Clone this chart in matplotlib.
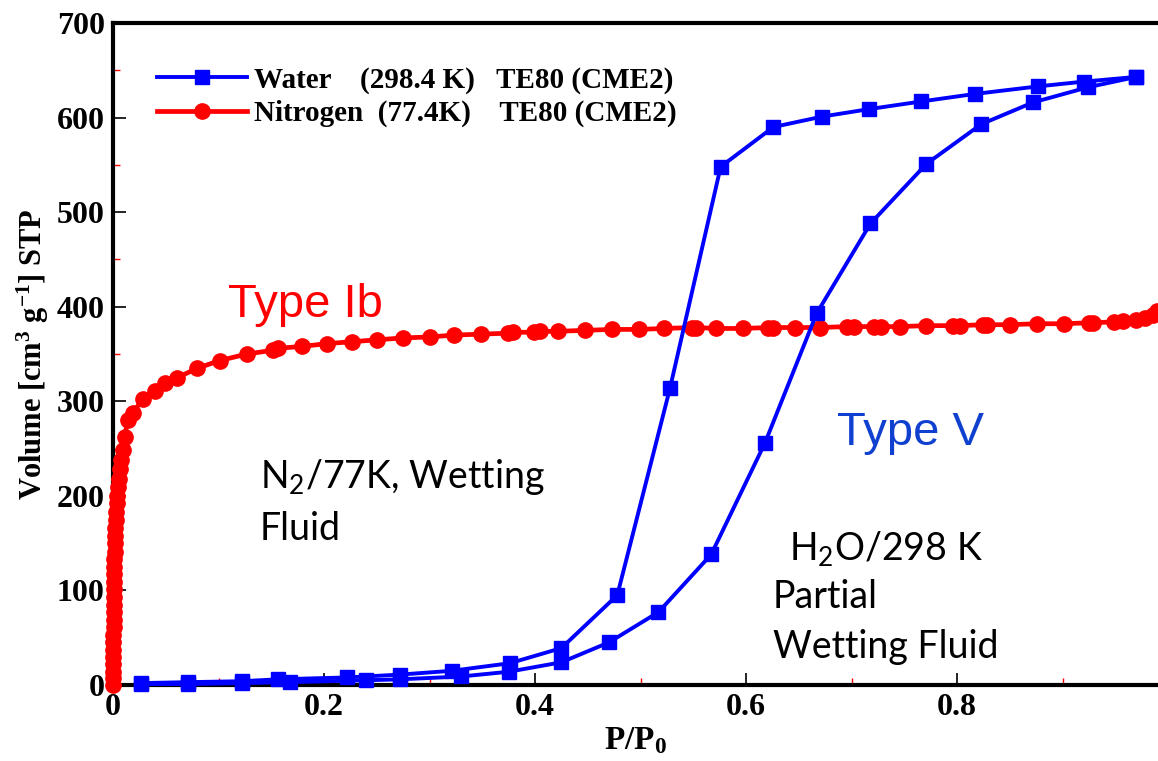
import matplotlib
matplotlib.use("Agg")
import matplotlib.pyplot as plt
from matplotlib.ticker import MultipleLocator

# ---------------- data ----------------
water_ads_x = [0.027, 0.071, 0.122, 0.168, 0.240, 0.272, 0.330, 0.375, 0.425, 0.470,
               0.517, 0.567, 0.618, 0.667, 0.718, 0.771, 0.823, 0.872, 0.924, 0.970]
water_ads_y = [1, 1, 2, 3, 5, 6, 9, 14, 24, 45,
               77, 138, 256, 393, 488, 551, 593, 616, 632, 643]

water_des_x = [0.970, 0.920, 0.877, 0.817, 0.766, 0.717, 0.672, 0.626, 0.576, 0.528,
               0.478, 0.425, 0.376, 0.321, 0.272, 0.222, 0.156, 0.122, 0.071, 0.027]
water_des_y = [643, 638, 633, 625, 617, 609, 601, 590, 548, 314,
               95, 39, 23, 15, 11, 8, 6, 4, 3, 2]

n2_x = [0.0000, 0.0001, 0.0001, 0.0002, 0.0002, 0.0003, 0.0003, 0.0004, 0.0005, 0.0005,
        0.0006, 0.0007, 0.0008, 0.0009, 0.0010, 0.0011, 0.0012, 0.0014, 0.0016, 0.0018,
        0.0020, 0.0023, 0.0026, 0.0030, 0.0035, 0.0040, 0.0047, 0.0055, 0.0066, 0.0080,
        0.0095, 0.0110, 0.014, 0.019, 0.028, 0.040, 0.049, 0.061, 0.080, 0.101,
        0.127, 0.152, 0.156, 0.179, 0.203, 0.227, 0.250, 0.275, 0.300, 0.323,
        0.349, 0.374, 0.379, 0.399, 0.405, 0.422, 0.447, 0.473, 0.499, 0.522,
        0.549, 0.553, 0.572, 0.597, 0.621, 0.626, 0.646, 0.670, 0.696, 0.702,
        0.721, 0.728, 0.746, 0.771, 0.796, 0.803, 0.825, 0.828, 0.850, 0.876,
        0.901, 0.925, 0.929, 0.949, 0.957, 0.970, 0.978, 0.986, 0.990]
n2_y = [0, 7, 14, 22, 30, 37, 45, 53, 61, 69,
        77, 85, 93, 101, 109, 117, 125, 133, 141, 150,
        158, 166, 175, 183, 192, 200, 209, 218, 228, 238,
        248, 262, 280, 288, 302, 311, 319, 325, 335, 343,
        350, 354, 356, 358, 361, 363, 365, 367, 368, 370,
        371, 372, 373, 373, 374, 374, 375, 376, 376, 377,
        378, 378, 377, 377, 378, 378, 378, 378, 379, 379,
        379, 379, 379, 380, 380, 380, 381, 381, 381, 382,
        382, 383, 383, 384, 385, 386, 388, 391, 395]

x_ticks = [0, 0.2, 0.4, 0.6, 0.8]
x_tick_labels = ["0", "0.2", "0.4", "0.6", "0.8"]
y_ticks = [0, 100, 200, 300, 400, 500, 600, 700]

label_water = "Water    (298.4 K)   TE80 (CME2)"
label_n2 = "Nitrogen  (77.4K)    TE80 (CME2)"

# ---------------- style ----------------
plt.rcParams["mathtext.default"] = "regular"
serif = "Liberation Serif"
sans = "Liberation Sans"
calibri_like = "Lato"

fig = plt.figure(figsize=(11.58, 7.61), dpi=100)
ax = fig.add_axes([113 / 1158, 76 / 761, 1 - 113 / 1158, (685 - 23) / 761])

BLUE = "#0000ff"
RED = "#ff0000"

ax.plot(n2_x, n2_y, color=RED, lw=3.4, marker="o", ms=11, mec=RED, mfc=RED,
        clip_on=False, zorder=3, label=label_n2)
ax.plot(water_ads_x, water_ads_y, color=BLUE, lw=2.8, marker="s", ms=10.5,
        mec=BLUE, mfc=BLUE, clip_on=False, zorder=4, label=label_water)
ax.plot(water_des_x, water_des_y, color=BLUE, lw=2.8, marker="s", ms=10.5,
        mec=BLUE, mfc=BLUE, clip_on=False, zorder=4)

ax.set_xlim(0, (1158 - 113) / 1055)
ax.set_ylim(0, 700)

ax.set_xticks(x_ticks)
ax.set_xticklabels(x_tick_labels)
ax.set_yticks(y_ticks)
ax.xaxis.set_minor_locator(MultipleLocator(0.1))
ax.yaxis.set_minor_locator(MultipleLocator(50))

ax.tick_params(which="major", direction="in", length=9, width=1.2, color="black",
               labelsize=23, pad=6, top=False, right=False)
ax.tick_params(which="minor", direction="in", length=5, width=1.0, color=RED,
               top=False, right=False)
for lab in ax.get_xticklabels() + ax.get_yticklabels():
    lab.set_fontfamily(serif)
    lab.set_fontweight("bold")

for side in ["left", "bottom", "top"]:
    ax.spines[side].set_linewidth(3.0)
    ax.spines[side].set_color("black")
ax.spines["right"].set_visible(False)

ax.set_xlabel("P/P$_0$", fontfamily=serif, fontweight="bold", fontsize=24, labelpad=2)
ax.set_ylabel("Volume [cm$^3$ g$^{-1}$] STP", fontfamily=serif, fontweight="bold",
              fontsize=22, labelpad=4)

# legend
handles, labels = ax.get_legend_handles_labels()
order = [1, 0]
leg = ax.legend([handles[i] for i in order], [labels[i] for i in order],
                loc="upper left", bbox_to_anchor=(145 / 1158, 1 - 55 / 761),
                bbox_transform=fig.transFigure, frameon=False,
                prop={"family": serif, "weight": "bold", "size": 21},
                handlelength=3.1, handletextpad=0.25, labelspacing=0.2,
                borderaxespad=0)

# annotations
ax.text(228, 761 - 317, "Type Ib", transform=None, color=RED, fontfamily=sans,
        fontsize=34, va="baseline", ha="left")
ax.text(837, 761 - 445, "Type V", transform=None, color="#1040d0", fontfamily=sans,
        fontsize=34, va="baseline", ha="left")
ax.text(260, 761 - 488, "N$_2$/77K, Wetting", transform=None, color="black",
        fontfamily=calibri_like, fontsize=27, va="baseline", ha="left")
ax.text(260, 761 - 540, "Fluid", transform=None, color="black",
        fontfamily=calibri_like, fontsize=27, va="baseline", ha="left")
ax.text(789, 761 - 560, "H$_2$O/298 K", transform=None, color="black",
        fontfamily=calibri_like, fontsize=27, va="baseline", ha="left")
ax.text(773, 761 - 608, "Partial", transform=None, color="black",
        fontfamily=calibri_like, fontsize=27, va="baseline", ha="left")
ax.text(773, 761 - 658, "Wetting Fluid", transform=None, color="black",
        fontfamily=calibri_like, fontsize=27, va="baseline", ha="left")

fig.savefig("out.png", dpi=100)
